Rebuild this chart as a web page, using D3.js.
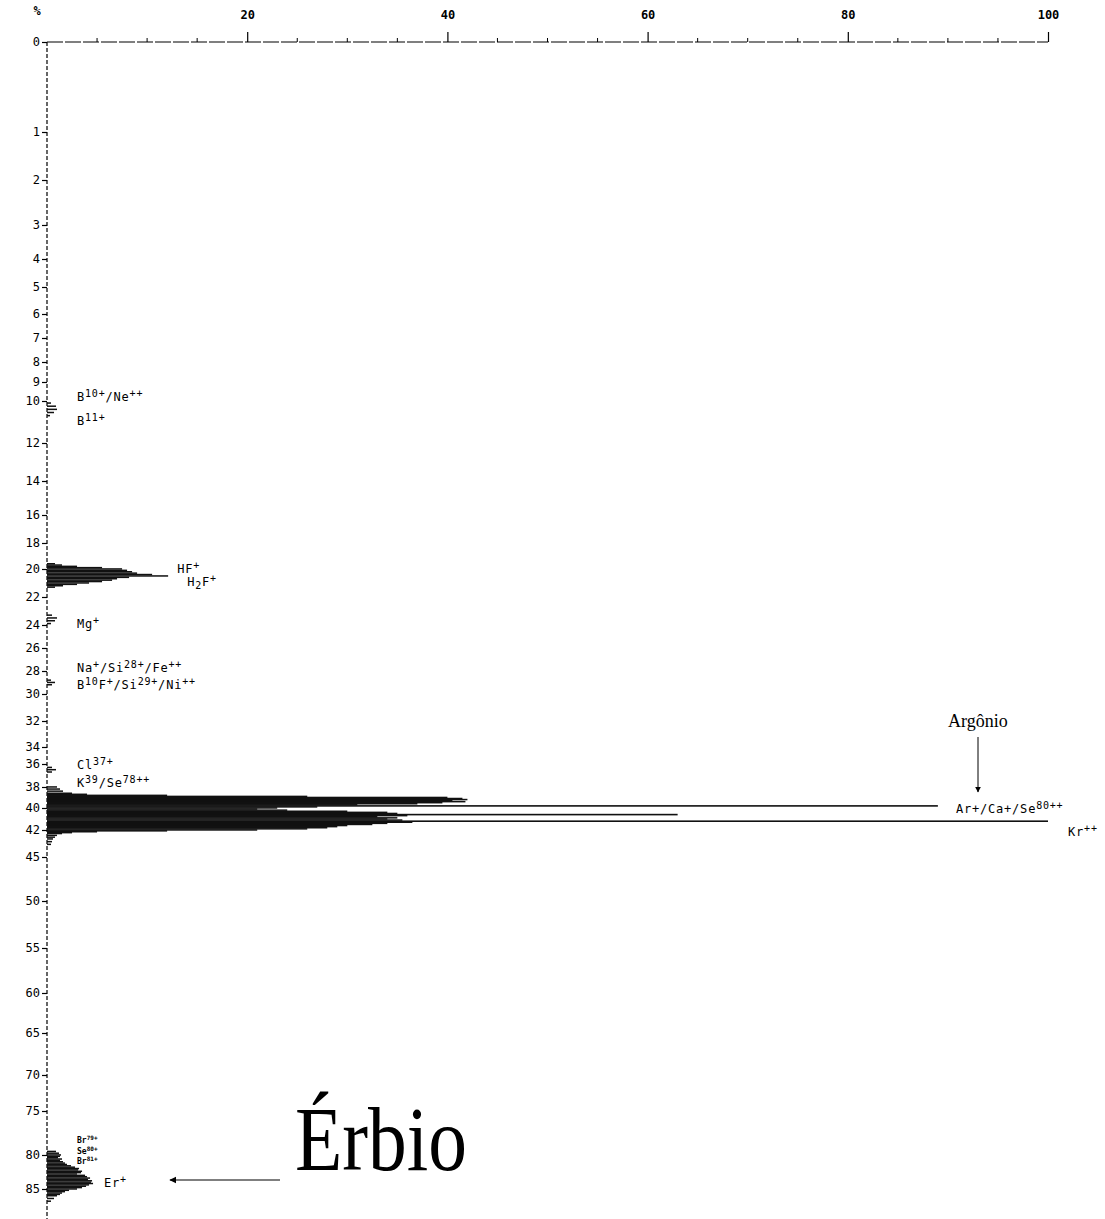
<!DOCTYPE html>
<html>
<head>
<meta charset="utf-8">
<script src="https://cdn.jsdelivr.net/npm/d3@7/dist/d3.min.js"></script>
<style>
  html, body { margin: 0; padding: 0; background: #fff; }
  svg { display: block; }
  .mono { font-family: "DejaVu Sans Mono", monospace; }
</style>
</head>
<body>
<svg id="chart" width="1105" height="1219"></svg>
<script>
// ---------------- DATA ----------------
// x axis (intensity, %)
const xTickValues = [20, 40, 60, 80, 100];
// y axis (mass) tick labels
const yTickValues = [0,1,2,3,4,5,6,7,8,9,10,12,14,16,18,20,22,24,26,28,30,32,34,36,38,40,42,45,50,55,60,65,70,75,80,85];

// spectrum: mass positions and relative intensity (%)
const massB   = [10.1, 10.25, 10.4, 10.55, 10.7];
const valB    = [0.4, 0.9, 1.0, 0.7, 0.3];

const massHF  = [19.6, 19.7, 19.8, 19.9, 20.0, 20.1, 20.2, 20.3, 20.4, 20.5, 20.6, 20.7, 20.8, 20.9, 21.0, 21.1, 21.2, 21.3];
const valHF   = [0.8, 1.5, 3.0, 5.5, 7.5, 8.0, 8.5, 9.0, 10.5, 12.1, 8.2, 7.0, 6.5, 5.5, 4.2, 3.0, 1.6, 0.8];

const massMg  = [23.3, 23.5, 23.7, 23.9];
const valMg   = [0.5, 1.0, 0.8, 0.4];

const massNa  = [28.8, 29.0, 29.2];
const valNa   = [0.4, 0.8, 0.5];

const massCl  = [36.3, 36.5, 36.7];
const valCl   = [0.5, 0.9, 0.5];

const massAr  = [38.0, 38.2, 38.4, 38.6, 38.7, 38.8, 38.9,
                 39.0, 39.1, 39.2, 39.3, 39.4, 39.5, 39.6, 39.7, 39.8, 39.9,
                 40.0, 40.1, 40.2, 40.3, 40.4, 40.5, 40.6, 40.7, 40.8, 40.9,
                 41.0, 41.1, 41.2, 41.3, 41.4, 41.5, 41.6, 41.7, 41.8, 41.9,
                 42.0, 42.1, 42.2, 42.3, 42.4, 42.6, 42.8, 43.0, 43.3, 43.6];
const valAr   = [1.0, 1.3, 1.6, 2.5, 4.0, 12.0, 26.0,
                 40.0, 41.5, 42.0, 40.5, 41.8, 39.5, 37.0, 31.0, 89.0, 27.0,
                 23.0, 21.0, 24.0, 30.0, 34.0, 35.0, 63.0, 36.0, 33.0, 35.0,
                 34.0, 35.5, 100.0, 36.5, 34.0, 32.5, 30.0, 29.0, 28.0, 26.0,
                 21.0, 12.0, 5.0, 2.5, 1.5, 1.0, 0.8, 0.6, 0.5, 0.4];

const massEr  = [79.6, 79.8, 80.0, 80.2, 80.4, 80.6, 80.8, 81.0, 81.2, 81.4, 81.6, 81.8,
                 82.0, 82.2, 82.4, 82.6, 82.8, 83.0, 83.2, 83.4, 83.6, 83.8, 84.0, 84.2,
                 84.4, 84.6, 84.8, 85.0, 85.2, 85.4, 85.6, 85.8, 86.0, 86.4, 86.8];
const valEr   = [0.9, 1.2, 1.4, 1.3, 1.1, 1.5, 1.3, 1.6, 1.8, 2.0, 2.4, 2.8,
                 3.2, 3.1, 3.5, 3.4, 3.0, 3.8, 4.0, 4.3, 4.1, 4.5, 4.4, 4.6,
                 4.2, 3.9, 3.5, 3.0, 2.2, 1.8, 1.5, 1.3, 1.0, 0.7, 0.4];

// peak labels
const peakLabels = ["B¹⁰⁺/Ne⁺⁺", "B¹¹⁺", "HF⁺", "H₂F⁺", "Mg⁺", "Na⁺/Si²⁸⁺/Fe⁺⁺", "B¹⁰F⁺/Si²⁹⁺/Ni⁺⁺",
                    "Cl³⁷⁺", "K³⁹/Se⁷⁸⁺⁺", "Ar+/Ca+/Se⁸⁰⁺⁺", "Kr⁺⁺", "Er⁺"];
const labelMass   = [9.8, 10.95, 20.0, 20.9, 23.95, 27.75, 29.2, 36.05, 37.65, 40.1, 42.2, 84.1];
const labelPct    = [3.0, 3.0, 13.0, 14.0, 3.0, 3.0, 3.0, 3.0, 3.0, 90.8, 102.0, 5.7];
// stacked bromine/selenium labels near mass 80
const brLabels    = ["Br⁷⁹⁺", "Se⁸⁰⁺", "Br⁸¹⁺"];
const brMass      = [78.25, 79.55, 80.85];

// ---------------- LAYOUT ----------------
const svg = d3.select("#chart");
const x = d3.scaleLinear().domain([0, 100]).range([47, 1048]);
// non-uniform mass axis calibration (pixel position of each tick)
const yRangePx = [42,132,180,225,259,287,314,338,362,382,401,443,481,515,543,569,597,625,648,671,694,721,747,764,787,808,830,857,901,948,993,1033,1075,1111,1155,1189];
const y = d3.scaleLinear().domain(yTickValues).range(yRangePx);

// dashed vertical axis line
svg.append("line")
  .attr("x1", x(0)).attr("x2", x(0))
  .attr("y1", y(0)).attr("y2", 1219)
  .attr("stroke", "#000").attr("stroke-width", 1.2)
  .attr("stroke-dasharray", "4,2");

// top axis
const gx = svg.append("g").attr("transform", `translate(0,${y(0)})`)
  .call(d3.axisTop(x).tickValues(xTickValues).tickSize(10).tickPadding(13).tickFormat(d3.format("d")));
gx.select(".domain").remove();
gx.selectAll(".tick line").attr("stroke", "#000").attr("stroke-width", 1.2);
gx.selectAll("text").attr("class", "mono").attr("font-size", 12).attr("font-weight", "bold").attr("fill", "#000");
svg.append("line")
  .attr("x1", x(0)).attr("x2", x(100)).attr("y1", y(0)).attr("y2", y(0))
  .attr("stroke", "#000").attr("stroke-width", 1.2).attr("stroke-dasharray", "16,2");
// minor ticks
svg.append("g").selectAll("line").data(d3.range(5, 100, 5).filter(v => v % 20 !== 0)).join("line")
  .attr("x1", d => x(d)).attr("x2", d => x(d))
  .attr("y1", y(0)).attr("y2", y(0) - 4)
  .attr("stroke", "#000").attr("stroke-width", 1);

svg.append("text").attr("class", "mono").attr("x", 37).attr("y", 15)
  .attr("text-anchor", "middle").attr("font-size", 12).attr("font-weight", "bold").text("%");

// left axis
const gy = svg.append("g").attr("transform", `translate(${x(0)},0)`)
  .call(d3.axisLeft(y).tickValues(yTickValues).tickSize(5).tickPadding(2).tickFormat(d3.format("d")));
gy.select(".domain").remove();
gy.selectAll(".tick line").attr("stroke", "#000").attr("stroke-width", 1.2);
gy.selectAll("text").attr("class", "mono").attr("font-size", 12).attr("fill", "#000");

// bars
const series = [
  [massB, valB], [massHF, valHF], [massMg, valMg], [massNa, valNa],
  [massCl, valCl], [massAr, valAr], [massEr, valEr]
];
const barData = [];
series.forEach(([m, v]) => m.forEach((mm, i) => barData.push({ m: mm, v: v[i] })));

svg.append("g").selectAll("rect").data(barData).join("rect")
  .attr("x", x(0))
  .attr("y", d => y(d.m) - 0.8)
  .attr("width", d => x(d.v) - x(0))
  .attr("height", d => d.v > 50 ? 1.6 : 1.5)
  .attr("fill", "#111");

// label renderer: superscript/subscript glyphs drawn raised/lowered
const supMap = {"⁰":"0","¹":"1","²":"2","³":"3","⁴":"4","⁵":"5","⁶":"6","⁷":"7","⁸":"8","⁹":"9","⁺":"+"};
const subMap = {"₂":"2"};
function runs(str) {
  const out = [];
  for (const ch of str) {
    const t = supMap[ch] ? "sup" : (subMap[ch] ? "sub" : "n");
    const c = supMap[ch] || subMap[ch] || ch;
    if (out.length && out[out.length - 1].t === t) out[out.length - 1].s += c;
    else out.push({ t, s: c });
  }
  return out;
}
function drawLabel(sel, fs) {
  sel.each(function(d) {
    const el = d3.select(this);
    let shift = 0;
    runs(d).forEach(r => {
      const target = r.t === "sup" ? -Math.round(fs / 3) : (r.t === "sub" ? Math.round(fs / 4) : 0);
      el.append("tspan").attr("dy", target - shift)
        .attr("font-size", r.t === "n" ? fs : fs - 2)
        .text(r.s);
      shift = target;
    });
  });
}

svg.append("g").selectAll("text").data(peakLabels).join("text")
  .attr("class", "mono")
  .attr("x", (d, i) => x(labelPct[i]))
  .attr("y", (d, i) => y(labelMass[i]) + 4)
  .attr("font-size", 12)
  .attr("letter-spacing", 0.8)
  .attr("fill", "#000")
  .call(drawLabel, 12);

svg.append("g").selectAll("text").data(brLabels).join("text")
  .attr("class", "mono")
  .attr("x", x(3.0))
  .attr("y", (d, i) => y(brMass[i]) + 3)
  .attr("font-size", 8)
  .attr("font-weight", "bold")
  .attr("fill", "#000")
  .call(drawLabel, 8);

// annotations
const defs = svg.append("defs");
defs.append("marker").attr("id", "arrow").attr("viewBox", "0 0 10 10")
  .attr("refX", 9).attr("refY", 5).attr("markerWidth", 6).attr("markerHeight", 6)
  .attr("orient", "auto-start-reverse")
  .append("path").attr("d", "M0,0 L10,5 L0,10 z").attr("fill", "#000");

svg.append("text").attr("x", 948).attr("y", 727)
  .attr("font-family", "Liberation Serif, serif").attr("font-size", 18).text("Argônio");
svg.append("line").attr("x1", 978).attr("x2", 978).attr("y1", 737).attr("y2", 792)
  .attr("stroke", "#000").attr("stroke-width", 1).attr("marker-end", "url(#arrow)");

svg.append("text").attr("x", 295).attr("y", 1170)
  .attr("font-family", "Liberation Serif, serif").attr("font-size", 92)
  .attr("textLength", 172).attr("lengthAdjust", "spacingAndGlyphs").text("Érbio");
svg.append("line").attr("x1", 280).attr("x2", 170).attr("y1", 1180).attr("y2", 1180)
  .attr("stroke", "#000").attr("stroke-width", 1.2).attr("marker-end", "url(#arrow)");
</script>
</body>
</html>
